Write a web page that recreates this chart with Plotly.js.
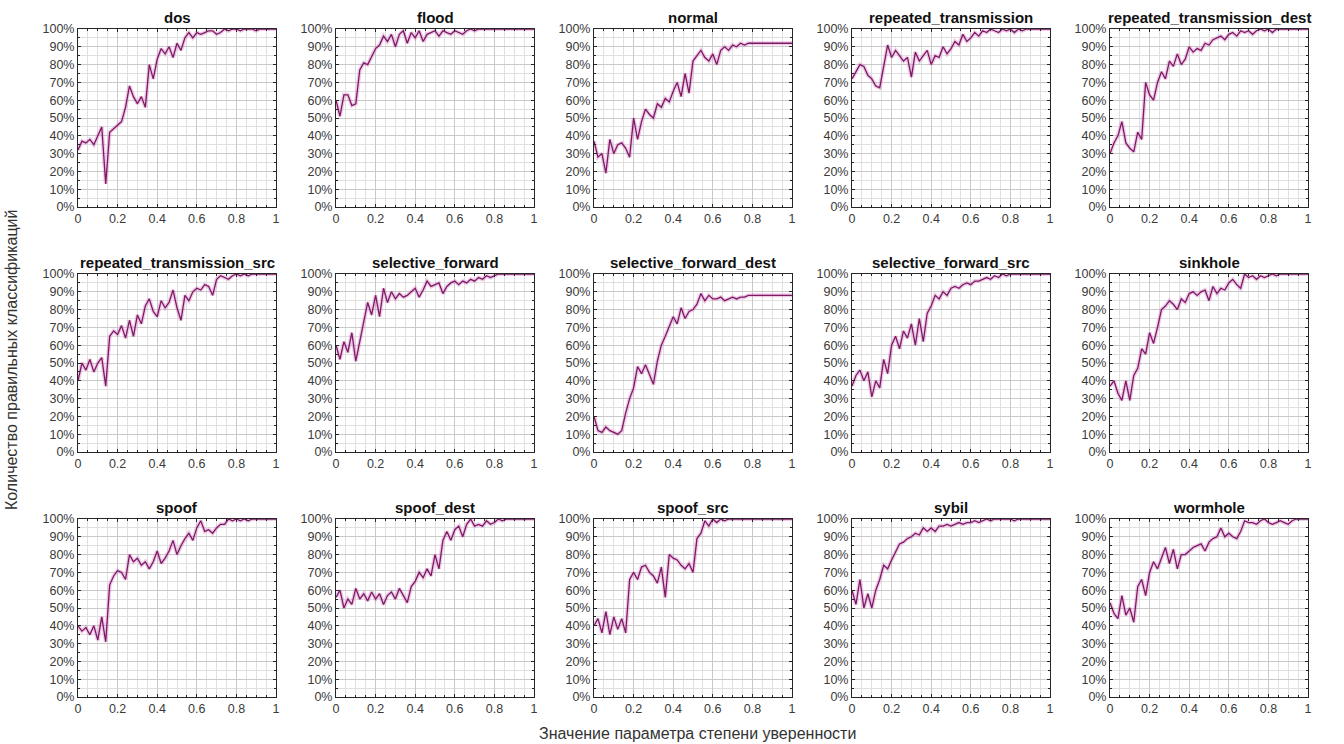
<!DOCTYPE html>
<html><head><meta charset="utf-8">
<script src="https://cdn.plot.ly/plotly-3.0.1.min.js"></script>
<style>html,body{margin:0;padding:0;background:#fff}#chart{width:1344px;height:744px}</style>
</head><body><div id="chart"></div>
<script>
// ---------- DATA ----------
const confidence = [0,0.02,0.04,0.06,0.08,0.1,0.12,0.14,0.16,0.18,0.2,0.22,0.24,0.26,0.28,0.3,0.32,0.34,0.36,0.38,0.4,0.42,0.44,0.46,0.48,0.5,0.52,0.54,0.56,0.58,0.6,0.62,0.64,0.66,0.68,0.7,0.72,0.74,0.76,0.78,0.8,0.82,0.84,0.86,0.88,0.9,0.92,0.94,0.96,0.98,1];

const classNames = ['dos','flood','normal','repeated_transmission','repeated_transmission_dest',
  'repeated_transmission_src','selective_forward','selective_forward_dest','selective_forward_src','sinkhole',
  'spoof','spoof_dest','spoof_src','sybil','wormhole'];

const dos = [32,37,36,38,35,40,45,13,42,44,46,48,56,68,62,58,62,56,80,72,83,89,86,90,84,92,88,95,98,95,98,97,98,99,99,97,98,100,99,100,100,99,100,100,100,99,100,100,100,100,100];
const flood = [60,51,63,63,57,58,77,81,80,85,89,91,96,93,97,90,97,99,92,98,95,99,93,97,98,99,96,99,98,97,99,98,97,99,100,99,100,100,100,100,100,100,100,100,100,100,100,100,100,100,100];
const normal = [37,28,30,19,38,30,35,36,33,28,50,38,48,55,52,50,58,56,61,59,65,70,62,75,64,82,85,88,84,82,86,80,88,90,88,91,90,92,91,92,92,92,92,92,92,92,92,92,92,92,92];
const repeatedTransmission = [72,76,80,79,74,72,68,67,80,91,84,88,85,82,84,73,87,82,85,88,80,85,84,90,86,89,93,91,97,93,95,98,96,99,98,100,99,98,100,99,100,98,100,99,100,100,100,100,100,100,100];
const repeatedTransmissionDest = [30,36,40,48,36,33,31,42,38,70,63,60,70,76,72,82,79,86,80,83,90,87,89,88,92,91,94,95,96,94,97,98,96,99,98,99,97,99,100,99,100,98,100,100,100,100,100,100,100,100,100];
const repeatedTransmissionSrc = [40,50,46,52,45,50,53,37,65,68,66,71,64,74,65,77,72,82,86,79,76,85,81,84,91,81,74,88,85,90,92,91,94,93,88,97,99,98,97,99,100,99,100,99,100,100,100,100,100,100,100];
const selectiveForward = [60,52,62,56,67,51,62,73,84,77,88,76,92,84,90,86,89,87,88,90,92,87,91,96,93,94,95,89,93,95,96,94,96,95,97,96,98,97,99,98,99,100,100,100,100,100,100,100,100,100,100];
const selectiveForwardDest = [20,12,11,14,12,11,10,12,22,30,36,48,44,49,44,38,51,60,65,71,76,72,81,75,79,80,83,89,85,88,86,86,87,85,86,87,86,87,87,88,88,88,88,88,88,88,88,88,88,88,88];
const selectiveForwardSrc = [37,43,46,40,45,31,40,36,52,44,60,65,58,68,64,72,60,75,62,78,82,88,86,90,88,92,93,92,94,95,94,96,96,97,98,97,99,98,100,99,100,100,100,100,100,100,100,100,100,100,100];
const sinkhole = [37,40,33,29,40,29,43,47,58,55,67,61,70,80,82,85,83,80,86,84,89,90,88,90,91,85,93,89,92,91,95,97,94,92,100,98,99,97,99,98,99,100,99,100,100,100,100,100,100,100,100];
const spoof = [40,37,39,35,40,32,45,31,63,68,71,70,66,80,76,78,74,76,72,76,82,75,78,82,88,80,85,89,92,88,95,99,93,94,92,95,97,97,100,99,100,99,100,99,100,100,100,100,100,100,100];
const spoofDest = [56,60,50,55,52,61,55,58,54,59,55,58,52,57,59,55,61,57,53,62,65,70,67,72,68,80,72,88,93,88,94,96,90,97,100,96,97,96,99,97,98,100,99,100,100,100,100,100,100,100,100];
const spoofSrc = [40,44,36,48,35,45,38,44,36,66,70,66,73,74,70,68,64,73,56,80,78,77,74,72,75,70,89,92,99,96,100,98,100,99,100,100,100,100,100,100,100,100,100,100,100,100,100,100,100,100,100];
const sybil = [60,52,66,50,58,50,60,66,74,72,77,82,86,87,89,90,92,91,95,93,95,93,96,96,97,96,97,98,97,98,98,99,98,99,100,99,100,100,100,100,100,99,100,100,100,100,100,100,100,100,100];
const wormhole = [53,47,44,57,46,50,42,62,66,57,70,76,72,78,84,75,83,72,80,80,82,84,85,86,82,87,89,90,95,90,92,90,89,93,99,98,98,97,99,100,98,97,98,99,98,97,99,100,100,100,100];

const xTickVals = [0,0.2,0.4,0.6,0.8,1];
const xTickText = ['0','0.2','0.4','0.6','0.8','1'];
const yTickVals = [0,10,20,30,40,50,60,70,80,90,100];
const yTickText = ['0%','10%','20%','30%','40%','50%','60%','70%','80%','90%','100%'];
const xAxisTitle = 'Значение параметра степени уверенности';
const yAxisTitle = 'Количество правильных классификаций';

const seriesList = [dos, flood, normal, repeatedTransmission, repeatedTransmissionDest,
  repeatedTransmissionSrc, selectiveForward, selectiveForwardDest, selectiveForwardSrc, sinkhole,
  spoof, spoofDest, spoofSrc, sybil, wormhole];

// ---------- LAYOUT ----------
const W = 1344, H = 744;
const colLeft0 = 78, colStep = 258, plotW = 198;
const rowTop0 = 29, rowStep = 245, plotH = 178;
const FONT = 'Liberation Sans, Arial, sans-serif';
const AXC = '#262626';

const traces = [];
const layout = {
  width: W, height: H,
  margin: {l:0, r:0, t:0, b:0},
  paper_bgcolor: '#fff', plot_bgcolor: '#fff',
  showlegend: false,
  font: {family: FONT, color: '#333'},
  annotations: []
};

seriesList.forEach((vals, i) => {
  const n = i + 1;
  const col = i % 5, row = Math.floor(i / 5);
  const L = colLeft0 + col * colStep, R = L + plotW;
  const T = rowTop0 + row * rowStep, B = T + plotH;
  const xs = n === 1 ? '' : String(n);
  const xa = 'x' + xs, ya = 'y' + xs;
  traces.push({x: confidence, y: vals, xaxis: xa, yaxis: ya, type: 'scatter', mode: 'lines',
    line: {color: 'rgba(214,120,196,0.38)', width: 4}, hoverinfo: 'skip'});
  traces.push({x: confidence, y: vals, xaxis: xa, yaxis: ya, type: 'scatter', mode: 'lines',
    line: {color: '#7e1a64', width: 1.3}, name: classNames[i]});
  const common = {
    showline: true, linecolor: AXC, linewidth: 1, mirror: 'ticks',
    ticks: 'inside', ticklen: 3, tickcolor: AXC,
    showgrid: true, gridcolor: '#c9c9c9', gridwidth: 1, zeroline: false,
    tickfont: {family: FONT, size: 12.5, color: '#3a3a3a'}, fixedrange: true
  };
  layout['xaxis' + xs] = Object.assign({}, common, {
    domain: [L / W, R / W], range: [0, 1], anchor: ya,
    tickmode: 'array', tickvals: xTickVals, ticktext: xTickText,
    minor: {tickmode: 'linear', tick0: 0, dtick: 0.05, showgrid: true, gridcolor: '#e0e0e0', ticks: 'inside', ticklen: 2, tickcolor: AXC}
  });
  layout['yaxis' + xs] = Object.assign({}, common, {
    domain: [1 - B / H, 1 - T / H], range: [0, 100], anchor: xa,
    tickmode: 'array', tickvals: yTickVals, ticktext: yTickText,
    minor: {tickmode: 'linear', tick0: 0, dtick: 5, showgrid: true, gridcolor: '#e0e0e0', ticks: 'inside', ticklen: 2, tickcolor: AXC}
  });
  layout.annotations.push({
    text: '<b>' + classNames[i] + '</b>', xref: 'paper', yref: 'paper',
    x: (L + R) / 2 / W, y: 1 - T / H, xanchor: 'center', yanchor: 'bottom', yshift: 1,
    showarrow: false, font: {family: FONT, size: 15, color: '#111'}
  });
});

layout.annotations.push({
  text: xAxisTitle, xref: 'paper', yref: 'paper', x: 697 / W, y: 1 - 733 / H,
  xanchor: 'center', yanchor: 'middle', showarrow: false,
  font: {family: FONT, size: 16, color: '#333'}
});
layout.annotations.push({
  text: yAxisTitle, xref: 'paper', yref: 'paper', x: 11 / W, y: 1 - 360 / H,
  xanchor: 'center', yanchor: 'middle', textangle: -90, showarrow: false,
  font: {family: FONT, size: 16, color: '#333'}
});

Plotly.newPlot('chart', traces, layout, {displayModeBar: false, staticPlot: true});
</script>
</body></html>
